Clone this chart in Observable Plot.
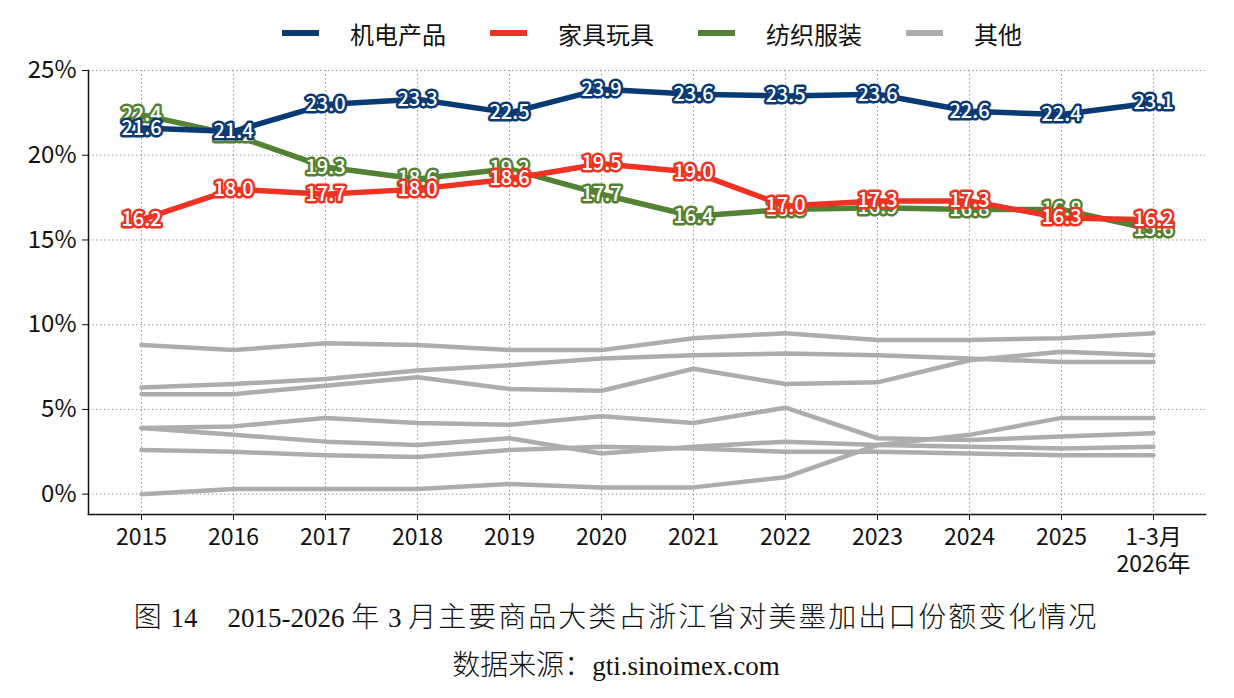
<!DOCTYPE html>
<html>
<head>
<meta charset="utf-8">
<script src="https://cdn.jsdelivr.net/npm/d3@7"></script>
<script src="https://cdn.jsdelivr.net/npm/@observablehq/plot@0.6"></script>
<style>
  body { margin: 0; background: #fff; width: 1234px; font-family: "Noto Sans CJK SC", sans-serif; }
  #legend { height: 50px; display: flex; justify-content: center; align-items: center; gap: 44px; font-size: 24px; color: #111; padding-left: 70px; padding-top: 16px; box-sizing: border-box; }
  #legend .item { display: flex; align-items: center; gap: 31px; }
  #legend .sw { width: 37px; height: 6px; }
  #chart svg { display: block; }
  .caption { font-family: "Liberation Serif", "Noto Sans CJK SC", serif; text-align: center; color: #111; padding-right: 2px; white-space: nowrap; font-weight: 300; }
  .caption .lat { font-size: 27px; letter-spacing: 0; }
  #cap1 { font-size: 28px; letter-spacing: 2px; margin-top: 8px; line-height: 40px; }
  #cap2 { font-size: 28px; margin-top: 8px; line-height: 40px; }
</style>
</head>
<body>
<div id="legend"></div>
<div id="chart"></div>
<div class="caption" id="cap1">图<span class="lat"> 14</span>　<span class="lat">2015-2026 </span>年<span class="lat"> 3 </span>月主要商品大类占浙江省对美墨加出口份额变化情况</div>
<div class="caption" id="cap2">数据来源：<span class="lat">gti.sinoimex.com</span></div>
<script>
// Periods on the x axis (last one is the partial year, Jan–Mar 2026)
const periods = ["2015", "2016", "2017", "2018", "2019", "2020", "2021", "2022", "2023", "2024", "2025", "1-3月\n2026年"];

// Share of Zhejiang's exports to US/Mexico/Canada, percent
const mechElec      = [21.6, 21.4, 23.0, 23.3, 22.5, 23.9, 23.6, 23.5, 23.6, 22.6, 22.4, 23.1];
const furnitureToys = [16.2, 18.0, 17.7, 18.0, 18.6, 19.5, 19.0, 17.0, 17.3, 17.3, 16.3, 16.2];
const textiles      = [22.4, 21.2, 19.3, 18.6, 19.2, 17.7, 16.4, 16.8, 16.9, 16.8, 16.8, 15.6];

// Remaining commodity groups, shown together as "其他"
const other1 = [8.8, 8.5, 8.9, 8.8, 8.5, 8.5, 9.2, 9.5, 9.1, 9.1, 9.2, 9.5];
const other2 = [6.3, 6.5, 6.8, 7.3, 7.6, 8.0, 8.2, 8.3, 8.2, 8.0, 7.8, 7.8];
const other3 = [5.9, 5.9, 6.4, 6.9, 6.2, 6.1, 7.4, 6.5, 6.6, 7.9, 8.4, 8.2];
const other4 = [3.9, 4.0, 4.5, 4.2, 4.1, 4.6, 4.2, 5.1, 3.3, 3.2, 3.4, 3.6];
const other5 = [3.9, 3.5, 3.1, 2.9, 3.3, 2.4, 2.8, 3.1, 2.9, 2.8, 2.7, 2.8];
const other6 = [2.6, 2.5, 2.3, 2.2, 2.6, 2.8, 2.7, 2.5, 2.5, 2.4, 2.3, 2.3];
const other7 = [0.0, 0.3, 0.3, 0.3, 0.6, 0.4, 0.4, 1.0, 2.9, 3.5, 4.5, 4.5];

const seriesNames = ["机电产品", "家具玩具", "纺织服装", "其他"];
const seriesColors = ["#0a3a74", "#ee3224", "#548235", "#adadad"];
const yTicks = [0, 5, 10, 15, 20, 25];

// Legend
const legend = document.getElementById("legend");
seriesNames.forEach((name, i) => {
  const item = document.createElement("div");
  item.className = "item";
  item.innerHTML = `<span class="sw" style="background:${seriesColors[i]}"></span><span>${name}</span>`;
  legend.appendChild(item);
});

const toRows = (vals, key) => vals.map((v, j) => ({period: periods[j], value: v, key}));
const others = [other1, other2, other3, other4, other5, other6, other7]
  .flatMap((vals, i) => toRows(vals, "o" + i));

// Labeled series, drawn green first so red and blue sit on top
const labeled = [
  {rows: toRows(textiles, "t"), color: seriesColors[2]},
  {rows: toRows(furnitureToys, "f"), color: seriesColors[1]},
  {rows: toRows(mechElec, "m"), color: seriesColors[0]}
];

const gridStyle = {stroke: "#9a9a9a", strokeOpacity: 1, strokeDasharray: "1.5,2.5", strokeWidth: 1};

const chart = Plot.plot({
  width: 1234,
  height: 540,
  marginTop: 20,
  marginBottom: 76,
  marginLeft: 88,
  marginRight: 29,
  style: {fontFamily: '"Noto Sans CJK SC", sans-serif', fontSize: "23px", color: "#111", background: "#fff"},
  x: {type: "point", domain: periods, padding: 0.545},
  y: {domain: [-1.2, 25]},
  marks: [
    Plot.gridY(yTicks, gridStyle),
    Plot.gridX(gridStyle),
    Plot.axisY(yTicks, {tickFormat: d => d + "%", tickSize: 6, tickPadding: 6, label: null, fontSize: 24, stroke: "#111"}),
    Plot.axisX({tickSize: 6, tickPadding: 6, label: null, fontSize: 23, lineHeight: 1.15, stroke: "#111"}),
    Plot.frame({anchor: "left", stroke: "#111", strokeWidth: 1.5}),
    Plot.frame({anchor: "bottom", stroke: "#111", strokeWidth: 1.5}),
    Plot.line(others, {x: "period", y: "value", z: "key", stroke: seriesColors[3], strokeWidth: 4.5}),
    ...labeled.flatMap(s => [
      Plot.line(s.rows, {x: "period", y: "value", stroke: s.color, strokeWidth: 5.5}),
      Plot.text(s.rows, {
        x: "period", y: "value", text: d => d.value.toFixed(1),
        fill: "white", stroke: s.color, strokeWidth: 5, fontSize: 20, fontWeight: 500
      })
    ])
  ]
});
document.getElementById("chart").appendChild(chart);
</script>
</body>
</html>
